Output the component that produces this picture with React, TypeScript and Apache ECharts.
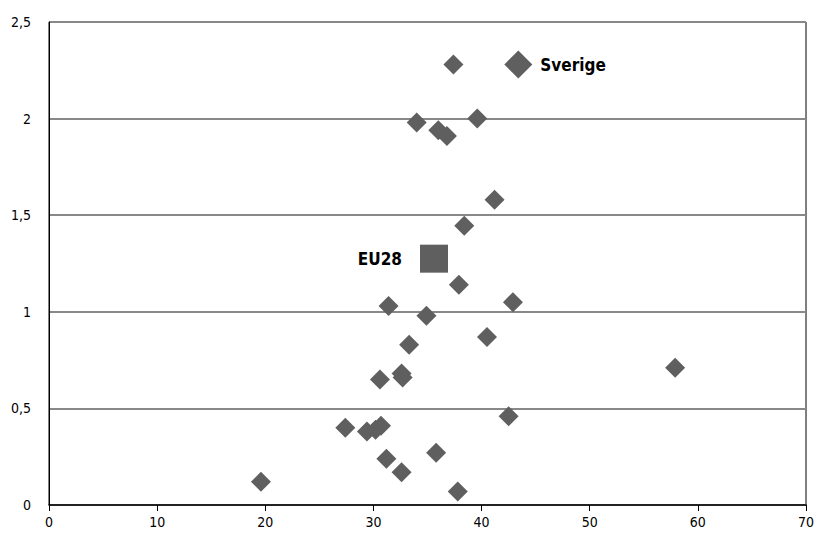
import React, { useEffect, useRef } from "react";
import * as echarts from "echarts";

const countryX = [19.6, 27.4, 29.4, 30.2, 30.7, 31.2, 32.6, 35.8, 37.8, 42.5, 30.6, 32.7, 32.6, 33.3, 34.9, 31.4, 40.5, 42.9, 37.9, 38.4, 41.2, 34.0, 36.0, 36.8, 39.6, 37.4, 57.9];
const countryY = [0.12, 0.40, 0.38, 0.39, 0.41, 0.24, 0.17, 0.27, 0.07, 0.46, 0.65, 0.66, 0.68, 0.83, 0.98, 1.03, 0.87, 1.05, 1.14, 1.445, 1.58, 1.98, 1.94, 1.91, 2.0, 2.28, 0.71];
const swedenPoint = { name: "Sverige", x: 43.4, y: 2.28 };
const eu28Point = { name: "EU28", x: 35.6, y: 1.275 };

const FONT = "'Liberation Sans Narrow', 'DejaVu Sans Condensed', 'Roboto', sans-serif";
const GREY = "#5f5f5f";

export default function App() {
  const ref = useRef<HTMLDivElement>(null);
  useEffect(() => {
    if (!ref.current) return;
    const chart = echarts.init(ref.current, null, { renderer: "svg" });
    chart.setOption({
      animation: false,
      backgroundColor: "#ffffff",
      grid: {
        left: 49, right: 8, top: 22, bottom: 32,
        outerBoundsMode: "none",
        containLabel: false,
        show: true, borderColor: "#000", borderWidth: 1, backgroundColor: "transparent",
      },
      xAxis: {
        type: "value",
        min: 0,
        max: 70,
        interval: 10,
        axisLine: { show: true, lineStyle: { color: "#000", width: 1.5 } },
        axisTick: { show: true, length: 6, lineStyle: { color: "#000" } },
        splitLine: { show: false },
        axisLabel: { color: "#000", fontFamily: FONT, fontSize: 14, margin: 10 },
      },
      yAxis: {
        type: "value",
        min: 0,
        max: 2.5,
        interval: 0.5,
        axisLine: { show: true, lineStyle: { color: "#000", width: 1 } },
        axisTick: { show: false },
        splitLine: { show: true, lineStyle: { color: "#888888", width: 2 } },
        axisLabel: {
          color: "#000",
          fontFamily: FONT,
          fontSize: 14,
          margin: 18,
          formatter: (v: number) => String(v).replace(".", ","),
        },
      },
      series: [
        {
          type: "scatter",
          symbol: "diamond",
          symbolSize: 20,
          itemStyle: { color: GREY, opacity: 1 },
          data: countryX.map((x, i) => [x, countryY[i]]),
        },
        {
          type: "scatter",
          symbol: "diamond",
          symbolSize: 28,
          itemStyle: { color: GREY, opacity: 1 },
          label: {
            show: true,
            position: "right",
            distance: 8,
            formatter: swedenPoint.name,
            color: "#000",
            fontFamily: FONT,
            fontWeight: "bold",
            fontSize: 17,
          },
          data: [[swedenPoint.x, swedenPoint.y]],
        },
        {
          type: "scatter",
          symbol: "rect",
          symbolSize: 28,
          itemStyle: { color: GREY, opacity: 1 },
          label: {
            show: true,
            position: "left",
            distance: 18,
            formatter: eu28Point.name,
            color: "#000",
            fontFamily: FONT,
            fontWeight: "bold",
            fontSize: 17,
          },
          data: [[eu28Point.x, eu28Point.y]],
        },
      ],
    });
    return () => chart.dispose();
  }, []);
  return <div ref={ref} style={{ position: "fixed", left: 0, top: 0, width: 814, height: 537 }} />;
}
